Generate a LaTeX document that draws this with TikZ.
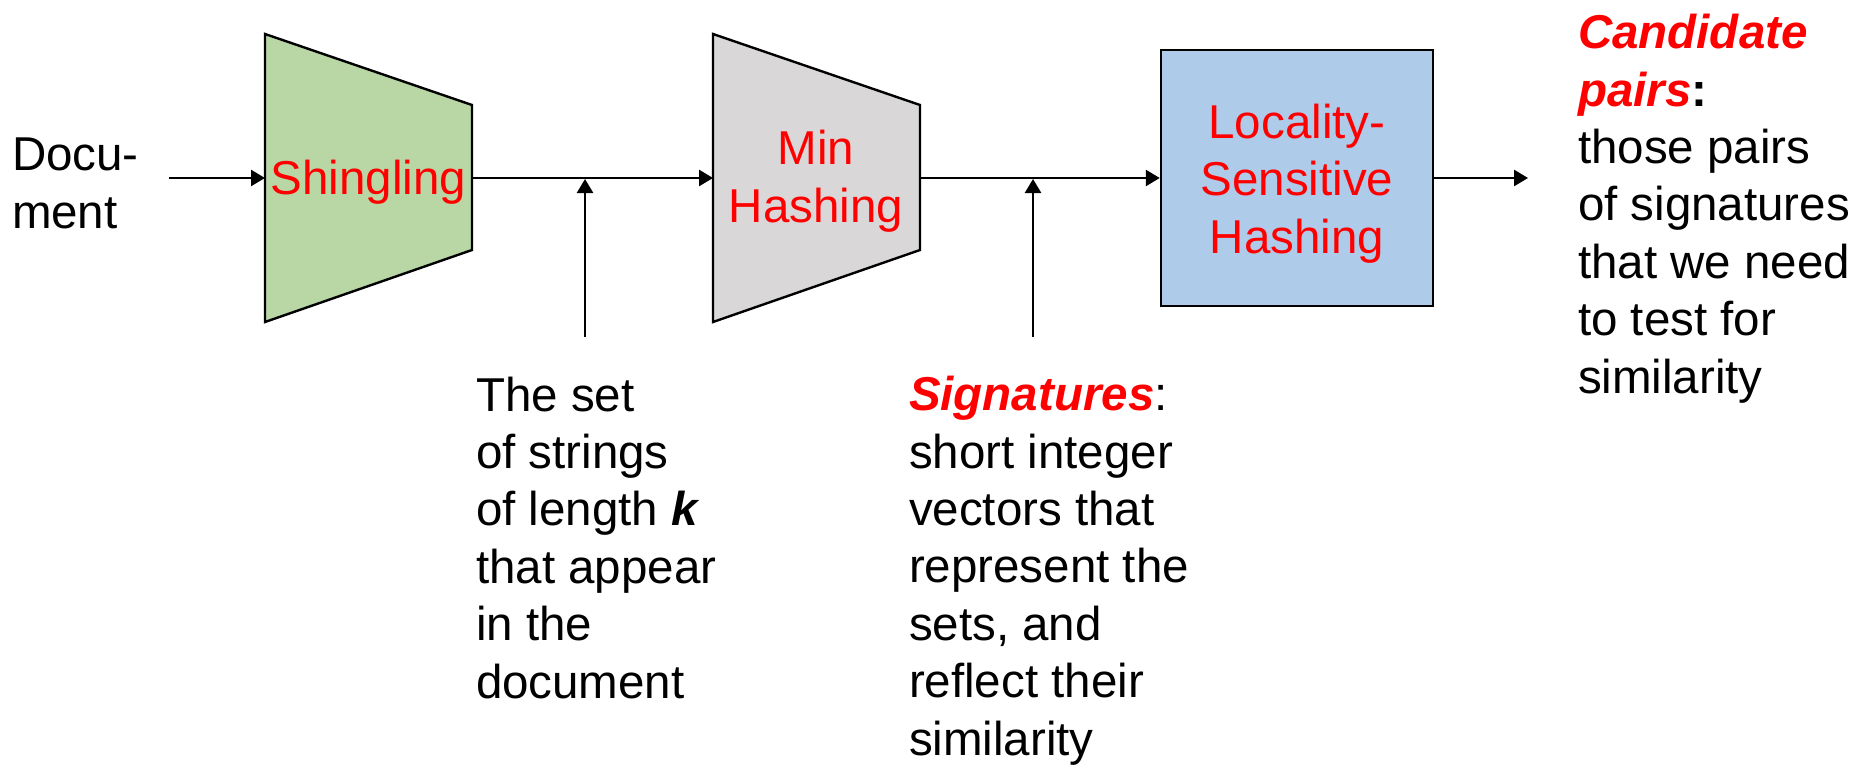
\documentclass[tikz,border=0pt]{standalone}
\usepackage{fontspec}
\setmainfont{Liberation Sans}
\usetikzlibrary{arrows.meta}
\definecolor{shgreen}{RGB}{184,215,165}
\definecolor{mhgray}{RGB}{217,215,216}
\definecolor{lshblue}{RGB}{174,203,233}
\definecolor{hred}{RGB}{255,0,0}
\newcommand\redbi[1]{\textcolor{hred}{\bfseries\itshape #1}}
\begin{document}
\begin{tikzpicture}[x=0.5pt,y=-0.5pt,
  txt/.style={font=\fontsize{23.75}{28.7}\selectfont, inner sep=0pt, outer sep=0pt},
  lbl/.style={txt, text=hred, align=center},
  conn/.style={line width=1.25pt, -{Triangle[length=7pt,width=8pt]}},
  boxline/.style={line width=1.2pt, draw=black, line join=miter}]
\useasboundingbox (0,0) rectangle (1856,765);

% stages
\path[boxline, fill=shgreen] (265,34) -- (472,105) -- (472,250) -- (265,322) -- cycle;
\path[boxline, fill=mhgray] (713,34) -- (920,105) -- (920,250) -- (713,322) -- cycle;
\node[boxline, fill=lshblue, minimum width=136pt, minimum height=128pt, inner sep=0pt] (lsh) at (1297,178) {};

% connector end points
\coordinate (docin) at (169,178);
\coordinate (shw) at (265,178);
\coordinate (she) at (472,178);
\coordinate (mhw) at (713,178);
\coordinate (mhe) at (920,178);
\coordinate (out) at (1528,178);
\coordinate (up1) at (585,337);
\coordinate (j1) at (585,179);
\coordinate (up2) at (1033,337);
\coordinate (j2) at (1033,179);

% labels (anchor=base is the baseline of the last line)
\node[lbl, anchor=base] (shl) at (368.5,194) {Shingling};
\node[lbl, anchor=base] (mhl) at (816,222) {Min\\Hashing};
\node[lbl, anchor=base] (lshl) at (1297,253) {Locality-\\Sensitive\\Hashing};

\node[txt, anchor=base west, align=left] (doc) at (12,228) {Docu-\\ment};
\node[txt, anchor=base west, align=left] (setk) at (476,698)
  {The set\\of strings\\of length \textbf{\textit{k}}\\that appear\\in the\\document};
\node[txt, anchor=base west, align=left] (sig) at (909,755)
  {\redbi{Signatures}:\\short integer\\vectors that\\represent the\\sets, and\\reflect their\\similarity};
\node[txt, anchor=base west, align=left] (cand) at (1578,393)
  {\redbi{Candidate}\\\redbi{pairs}\textbf{:}\\those pairs\\of signatures\\that we need\\to test for\\similarity};

% connectors
\draw[conn] (docin) -- (shw);
\draw[conn] (she) -- (mhw);
\draw[conn] (mhe) -- (lsh.west);
\draw[conn] (lsh.east) -- (out);
\draw[conn] (up1) -- (j1);
\draw[conn] (up2) -- (j2);
\end{tikzpicture}
\end{document}
